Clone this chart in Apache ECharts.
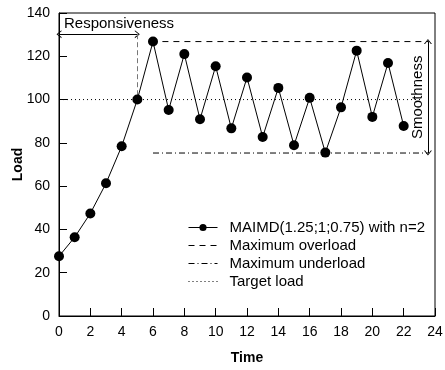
<!DOCTYPE html>
<html>
<head>
    <meta charset="UTF-8">
    <title>MAIMD load</title>
    <script src="https://cdn.jsdelivr.net/npm/echarts/dist/echarts.min.js"></script>
    <style>
        body { margin: 0; background: #fff; }
        #main { width: 445px; height: 370px; }
    </style>
</head>
<body>
    <div id="main"></div>
    <script>
        // data
        var time = [0, 1, 2, 3, 4, 5, 6, 7, 8, 9, 10, 11, 12, 13, 14, 15, 16, 17, 18, 19, 20, 21, 22];
        var load = [27.6, 36.4, 47.4, 61.3, 78.4, 100, 126.8, 95.2, 121, 90.9, 115.4, 86.7, 110.2, 82.7,
                    105.4, 78.9, 100.8, 75.5, 96.4, 122.6, 92, 116.9, 87.8];
        var overloadX = [6.6, 23.6], overloadY = 126.8;
        var underloadX = [6, 23.6], underloadY = 75.3;
        var targetX = [0, 23.1], targetY = 100;
        var respY = 130.2, respEnd = 5;   // responsiveness arrow
        var smoothX = 23.55;              // smoothness arrow
        var xTicks = { min: 0, max: 24, step: 2 };
        var yTicks = { min: 0, max: 140, step: 20 };

        var font = "'Liberation Sans', Arial, sans-serif";
        var chevron = 'path://M0,10 L5,0 L10,10 L8.6,10 L5,2.6 L1.4,10 Z';
        var noFill = 'rgba(0,0,0,0)';

        var chart = echarts.init(document.getElementById('main'));

        var option = {
            backgroundColor: '#fff',
            animation: false,
            textStyle: { fontFamily: font, color: '#000' },
            grid: {
                left: 59, right: 10, top: 13, bottom: 54,
                outerBoundsMode: 'none', containLabel: false,
                show: true, borderColor: '#000', borderWidth: 1
            },
            legend: {
                data: ['MAIMD(1.25;1;0.75) with n=2', 'Maximum overload', 'Maximum underload', 'Target load'],
                orient: 'vertical',
                left: 188, top: 220, padding: 0,
                itemWidth: 29, itemHeight: 9, itemGap: 3,
                lineStyle: { width: 1 },
                textStyle: { fontFamily: font, fontSize: 15, color: '#000', padding: [0, 0, 0, 7] }
            },
            xAxis: {
                type: 'value',
                min: xTicks.min, max: xTicks.max, interval: xTicks.step,
                name: 'Time', nameLocation: 'middle', nameGap: 35,
                nameTextStyle: { fontWeight: 'bold', fontSize: 14, fontFamily: font, color: '#000' },
                axisLine: { lineStyle: { color: '#000', width: 1 } },
                axisTick: { inside: true, length: 8, lineStyle: { color: '#000' } },
                axisLabel: { fontSize: 14, color: '#000', fontFamily: font, margin: 9 },
                splitLine: { show: false }
            },
            yAxis: {
                type: 'value',
                min: yTicks.min, max: yTicks.max, interval: yTicks.step,
                name: 'Load', nameLocation: 'middle', nameGap: 34, nameMoveOverlap: false,
                nameTextStyle: { fontWeight: 'bold', fontSize: 14, fontFamily: font, color: '#000' },
                axisLine: { show: true, lineStyle: { color: '#000', width: 1 } },
                axisTick: { inside: true, length: 8, lineStyle: { color: '#000' } },
                axisLabel: { fontSize: 14, color: '#000', fontFamily: font, margin: 9 },
                splitLine: { show: false }
            },
            series: [
                {
                    name: 'MAIMD(1.25;1;0.75) with n=2',
                    type: 'line',
                    data: time.map(function (t, i) { return [t, load[i]]; }),
                    symbol: 'circle', symbolSize: 10,
                    itemStyle: { color: '#000' },
                    lineStyle: { color: '#000', width: 1 },
                    z: 5
                },
                {
                    name: 'Maximum overload',
                    type: 'line',
                    data: overloadX.map(function (x) { return [x, overloadY]; }),
                    symbol: 'none',
                    itemStyle: { color: noFill, borderColor: noFill },
                    lineStyle: { color: '#000', width: 1, type: [6, 5] }
                },
                {
                    name: 'Maximum underload',
                    type: 'line',
                    data: underloadX.map(function (x) { return [x, underloadY]; }),
                    symbol: 'none',
                    itemStyle: { color: noFill, borderColor: noFill },
                    lineStyle: { color: '#000', width: 1, type: [6, 3, 1, 3] }
                },
                {
                    name: 'Target load',
                    type: 'line',
                    data: targetX.map(function (x) { return [x, targetY]; }),
                    symbol: 'none',
                    itemStyle: { color: noFill, borderColor: noFill },
                    lineStyle: { color: '#000', width: 1, type: [1, 3] }
                },
                {
                    name: 'notes',
                    type: 'line',
                    data: [],
                    silent: true,
                    markLine: {
                        silent: true,
                        animation: false,
                        data: [
                            [
                                {
                                    coord: [xTicks.min, respY], symbol: chevron, symbolSize: [8, 5],
                                    lineStyle: { color: '#000', width: 1, type: 'solid' },
                                    label: {
                                        show: true, position: 'insideStartTop', formatter: 'Responsiveness',
                                        fontSize: 15, fontFamily: font, color: '#000', distance: [5, 3]
                                    }
                                },
                                { coord: [respEnd, respY], symbol: chevron, symbolSize: [8, 5] }
                            ],
                            [
                                {
                                    coord: [respEnd, respY], symbol: 'none',
                                    lineStyle: { color: '#777', width: 1, type: [5, 3] },
                                    label: { show: false }
                                },
                                { coord: [respEnd, targetY], symbol: 'none' }
                            ],
                            [
                                {
                                    coord: [smoothX, underloadY], symbol: chevron, symbolSize: [8, 5],
                                    lineStyle: { color: '#000', width: 1, type: 'solid' },
                                    label: {
                                        show: true, position: 'middle', formatter: 'Smoothness',
                                        fontSize: 15, fontFamily: font, color: '#000', distance: 3
                                    }
                                },
                                { coord: [smoothX, overloadY], symbol: chevron, symbolSize: [8, 5] }
                            ]
                        ]
                    }
                }
            ]
        };

        option && chart.setOption(option);
    </script>
</body>
</html>
